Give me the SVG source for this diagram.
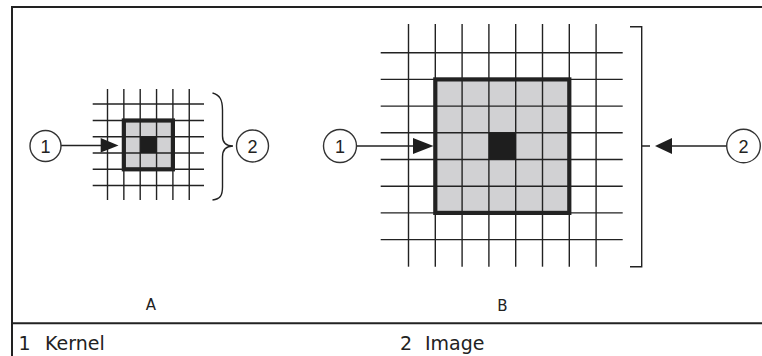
<svg xmlns="http://www.w3.org/2000/svg" width="762" height="356" viewBox="0 0 762 356">
<style>
.frame{stroke:#222;stroke-width:2;fill:none}
.grid line{stroke:#222;stroke-width:1.4}
.kbox{fill:#d1d1d3;stroke:#222;stroke-width:4.2}
.kline{stroke:#222;stroke-width:1.4}
.center{fill:#1e1e1e}
.conn{stroke:#222;stroke-width:1.4;fill:none}
.head{fill:#1e1e1e}
.callout circle{fill:#fff;stroke:#333;stroke-width:1.4}
.num{font-family:"Liberation Sans",Arial,sans-serif;font-size:18px;fill:#222;text-anchor:middle}
.cap{font-family:"DejaVu Sans",Verdana,sans-serif;font-size:15px;fill:#222;text-anchor:middle}
.legend{font-family:"DejaVu Sans",Verdana,sans-serif;font-size:19px;fill:#222}
</style>
<rect width="762" height="356" fill="#fff"/>
<g id="frame" class="frame">
<line x1="12" y1="7" x2="762" y2="7"/>
<line x1="12" y1="6" x2="12" y2="356"/>
<line x1="12" y1="323.3" x2="762" y2="323.3"/>
</g>
<g id="imageA">
<g class="grid">
<line x1="107.5" y1="89" x2="107.5" y2="200"/>
<line x1="123.85" y1="89" x2="123.85" y2="200"/>
<line x1="140.2" y1="89" x2="140.2" y2="200"/>
<line x1="156.55" y1="89" x2="156.55" y2="200"/>
<line x1="172.9" y1="89" x2="172.9" y2="200"/>
<line x1="189.25" y1="89" x2="189.25" y2="200"/>
<line x1="92.7" y1="104" x2="204" y2="104"/>
<line x1="92.7" y1="120.5" x2="204" y2="120.5"/>
<line x1="92.7" y1="136.8" x2="204" y2="136.8"/>
<line x1="92.7" y1="153" x2="204" y2="153"/>
<line x1="92.7" y1="169.3" x2="204" y2="169.3"/>
<line x1="92.7" y1="185.5" x2="204" y2="185.5"/>
</g>
</g>
<g id="kernelA">
<rect class="kbox" x="123.85" y="120.5" width="49.05" height="48.8"/>
<line class="kline" x1="140.2" y1="120.5" x2="140.2" y2="169.3"/>
<line class="kline" x1="156.55" y1="120.5" x2="156.55" y2="169.3"/>
<line class="kline" x1="123.85" y1="136.8" x2="172.9" y2="136.8"/>
<line class="kline" x1="123.85" y1="153" x2="172.9" y2="153"/>
<rect class="center" x="140.2" y="136.8" width="16.35" height="16.2"/>
</g>
<g id="imageB">
<g class="grid">
<line x1="408.5" y1="24" x2="408.5" y2="266.7"/>
<line x1="435.3" y1="24" x2="435.3" y2="266.7"/>
<line x1="462.1" y1="24" x2="462.1" y2="266.7"/>
<line x1="488.9" y1="24" x2="488.9" y2="266.7"/>
<line x1="515.7" y1="24" x2="515.7" y2="266.7"/>
<line x1="542.5" y1="24" x2="542.5" y2="266.7"/>
<line x1="569.3" y1="24" x2="569.3" y2="266.7"/>
<line x1="596.1" y1="24" x2="596.1" y2="266.7"/>
<line x1="380.7" y1="52.7" x2="622.7" y2="52.7"/>
<line x1="380.7" y1="79.4" x2="622.7" y2="79.4"/>
<line x1="380.7" y1="106.1" x2="622.7" y2="106.1"/>
<line x1="380.7" y1="132.8" x2="622.7" y2="132.8"/>
<line x1="380.7" y1="159.5" x2="622.7" y2="159.5"/>
<line x1="380.7" y1="186.2" x2="622.7" y2="186.2"/>
<line x1="380.7" y1="212.9" x2="622.7" y2="212.9"/>
<line x1="380.7" y1="239.6" x2="622.7" y2="239.6"/>
</g>
</g>
<g id="kernelB">
<rect class="kbox" x="435.3" y="79.4" width="134" height="133.5"/>
<line class="kline" x1="462.1" y1="79.4" x2="462.1" y2="212.9"/>
<line class="kline" x1="488.9" y1="79.4" x2="488.9" y2="212.9"/>
<line class="kline" x1="515.7" y1="79.4" x2="515.7" y2="212.9"/>
<line class="kline" x1="542.5" y1="79.4" x2="542.5" y2="212.9"/>
<line class="kline" x1="435.3" y1="106.1" x2="569.3" y2="106.1"/>
<line class="kline" x1="435.3" y1="132.8" x2="569.3" y2="132.8"/>
<line class="kline" x1="435.3" y1="159.5" x2="569.3" y2="159.5"/>
<line class="kline" x1="435.3" y1="186.2" x2="569.3" y2="186.2"/>
<rect class="center" x="488.9" y="132.8" width="26.8" height="26.7"/>
</g>
<g id="connectors">
<line class="conn" x1="61" y1="145.5" x2="102" y2="145.5"/>
<polygon class="head" points="100.7,138 118.5,145.5 100.7,152.5"/>
<path class="conn" d="M212.5,93 C220,95 222.5,100 222.5,110 L222.5,136 C222.5,142 226,146 233,146 C226,146 222.5,150 222.5,157 L222.5,187 C222.5,196 220,199 212.5,200"/>
<line class="conn" x1="356.5" y1="146" x2="414" y2="146"/>
<polygon class="head" points="413,138 433.5,146 413,154"/>
<path class="conn" d="M630,26.7 L641.7,26.7 L641.7,266.7 L630,266.7 M641.7,146 L650,146"/>
<line class="conn" x1="671" y1="146" x2="726.5" y2="146"/>
<polygon class="head" points="655,146 672,138 672,154"/>
</g>
<g id="callout-A1" class="callout">
<circle cx="45.5" cy="146" r="15.5"/>
<text class="num" x="45.5" y="152.5">1</text>
</g>
<g id="callout-A2" class="callout">
<circle cx="252.5" cy="146" r="16"/>
<text class="num" x="252.5" y="152.5">2</text>
</g>
<g id="callout-B1" class="callout">
<circle cx="340" cy="146" r="16.5"/>
<text class="num" x="340" y="152.5">1</text>
</g>
<g id="callout-B2" class="callout">
<circle cx="743.5" cy="146" r="16.8"/>
<text class="num" x="743.5" y="152.5">2</text>
</g>
<g id="labels">
<text class="cap" x="151" y="310">A</text>
<text class="cap" x="502.5" y="310.5">B</text>
<text class="legend" y="350"><tspan x="18.5">1</tspan><tspan x="45">Kernel</tspan></text>
<text class="legend" y="350"><tspan x="400">2</tspan><tspan x="425">Image</tspan></text>
</g>
</svg>
